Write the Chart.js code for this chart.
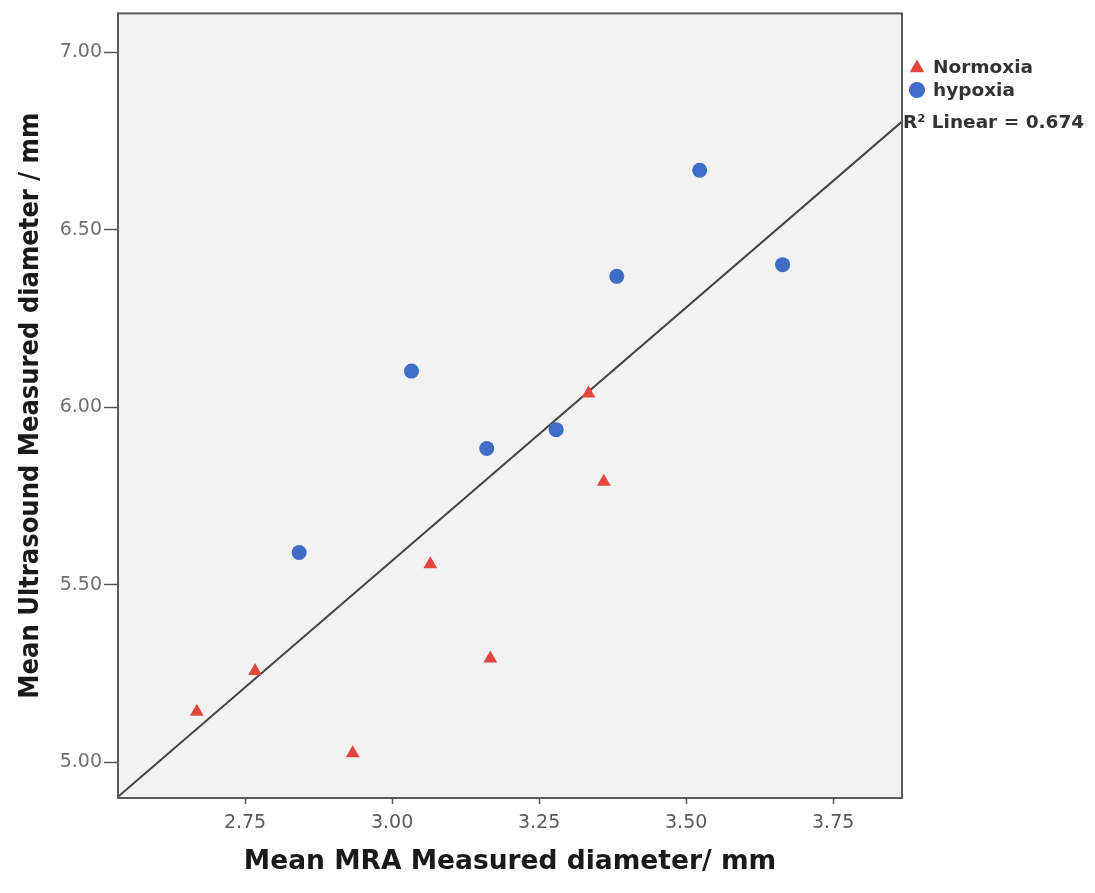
<!DOCTYPE html>
<html>
<head>
<meta charset="utf-8">
<title>Mean MRA vs Ultrasound diameter</title>
<script src="https://cdn.jsdelivr.net/npm/chart.js@4.4.1/dist/chart.umd.min.js"></script>
<style>
    body { margin: 0; background: #ffffff; }
    #wrap { width: 1095px; height: 893px; }
</style>
</head>
<body>
<div id="wrap"><canvas id="scatterChart" width="1095" height="893"></canvas></div>
<script>
// values
const normoxiaX = [2.668, 2.767, 2.933, 3.065, 3.167, 3.334, 3.360];
const normoxiaY = [5.142, 5.257, 5.025, 5.558, 5.292, 6.039, 5.790];
const hypoxiaX = [2.842, 3.033, 3.161, 3.279, 3.382, 3.523, 3.664];
const hypoxiaY = [5.591, 6.102, 5.884, 5.937, 6.369, 6.668, 6.402];

const xTicks = [2.75, 3.00, 3.25, 3.50, 3.75];
const yTicks = [5.00, 5.50, 6.00, 6.50, 7.00];
const xRange = [2.534, 3.867];
const yRange = [4.899, 7.110];

const seriesNames = ['Normoxia', 'hypoxia'];
const r2Label = 'R\u00B2 Linear = 0.674';

const red = '#e2473f';
const blue = '#3e6cc6';

// least squares fit over both groups
const allX = normoxiaX.concat(hypoxiaX);
const allY = normoxiaY.concat(hypoxiaY);
const n = allX.length;
const mx = allX.reduce((a, b) => a + b, 0) / n;
const my = allY.reduce((a, b) => a + b, 0) / n;
let sxy = 0, sxx = 0;
allX.forEach((x, i) => {
    sxy += (x - mx) * (allY[i] - my);
    sxx += (x - mx) * (x - mx);
});
const slope = sxy / sxx;
const intercept = my - slope * mx;
const fitLine = xRange.map(x => ({ x: x, y: intercept + slope * x }));

const toPoints = (xs, ys) => xs.map((x, i) => ({ x: x, y: ys[i] }));

const plotFrame = {
    id: 'plotFrame',
    beforeDatasetsDraw(chart) {
        const { ctx, chartArea: a } = chart;
        ctx.save();
        ctx.fillStyle = '#f2f2f2';
        ctx.fillRect(a.left, a.top, a.right - a.left, a.bottom - a.top);
        ctx.restore();
    },
    afterDraw(chart) {
        const { ctx, chartArea: a } = chart;
        ctx.save();
        ctx.strokeStyle = '#595959';
        ctx.lineWidth = 2;
        ctx.strokeRect(a.left, a.top, a.right - a.left, a.bottom - a.top);

        // legend on the right
        const lx = a.right + 15;
        ctx.fillStyle = red;
        Chart.helpers.drawPoint(ctx, { pointStyle: 'triangle', radius: 8.5, rotation: 0, borderWidth: 0 }, lx, 68);
        ctx.fillStyle = blue;
        Chart.helpers.drawPoint(ctx, { pointStyle: 'circle', radius: 8, rotation: 0, borderWidth: 0 }, lx, 90);

        ctx.fillStyle = '#333333';
        ctx.font = 'bold 18.5px "DejaVu Sans", sans-serif';
        ctx.textBaseline = 'middle';
        ctx.textAlign = 'left';
        ctx.fillText(seriesNames[0], lx + 16, 68);
        ctx.fillText(seriesNames[1], lx + 16, 91);
        ctx.fillText(r2Label, a.right + 1, 123);
        ctx.restore();
    }
};

new Chart(document.getElementById('scatterChart'), {
    type: 'scatter',
    data: {
        datasets: [
            {
                label: seriesNames[0],
                data: toPoints(normoxiaX, normoxiaY),
                pointStyle: 'triangle',
                pointRadius: 8,
                backgroundColor: red,
                borderWidth: 0,
                order: 1
            },
            {
                label: seriesNames[1],
                data: toPoints(hypoxiaX, hypoxiaY),
                pointStyle: 'circle',
                pointRadius: 7.5,
                backgroundColor: blue,
                borderWidth: 0,
                order: 1
            },
            {
                label: 'Linear fit',
                type: 'line',
                data: fitLine,
                borderColor: '#454545',
                borderWidth: 2,
                pointRadius: 0,
                fill: false,
                order: 2
            }
        ]
    },
    options: {
        responsive: false,
        animation: false,
        layout: { padding: { left: 0, right: 193, top: 13, bottom: 0 } },
        plugins: {
            legend: { display: false },
            tooltip: { enabled: false }
        },
        scales: {
            x: {
                type: 'linear',
                min: xRange[0],
                max: xRange[1],
                afterBuildTicks: s => { s.ticks = xTicks.map(v => ({ value: v })); },
                afterFit: s => { s.height = 95; },
                grid: { drawOnChartArea: false, drawTicks: true, tickLength: 6, tickColor: '#555', tickWidth: 1.5 },
                border: { display: false },
                ticks: {
                    padding: 8,
                    color: '#5a5a5a',
                    font: { family: '"DejaVu Sans", sans-serif', size: 19 },
                    callback: v => v.toFixed(2)
                },
                title: {
                    display: true,
                    text: 'Mean MRA Measured diameter/ mm',
                    color: '#1a1a1a',
                    font: { family: '"DejaVu Sans", sans-serif', size: 26.5, weight: 'bold' },
                    padding: { top: 0, bottom: 15 }
                }
            },
            y: {
                type: 'linear',
                min: yRange[0],
                max: yRange[1],
                afterBuildTicks: s => { s.ticks = yTicks.map(v => ({ value: v })); },
                afterFit: s => { s.width = 118; },
                grid: { drawOnChartArea: false, drawTicks: true, tickLength: 14, tickColor: '#555', tickWidth: 1.5 },
                border: { display: false },
                ticks: {
                    padding: 2,
                    color: '#707070',
                    font: { family: '"DejaVu Sans", sans-serif', size: 19 },
                    callback: v => v.toFixed(2)
                },
                title: {
                    display: true,
                    text: 'Mean Ultrasound Measured diameter / mm',
                    color: '#1a1a1a',
                    font: { family: '"Liberation Sans Narrow", "DejaVu Sans Condensed", sans-serif', size: 27, weight: 'bold' },
                    padding: { top: 15, bottom: 0 }
                }
            }
        }
    },
    plugins: [plotFrame]
});
</script>
</body>
</html>
